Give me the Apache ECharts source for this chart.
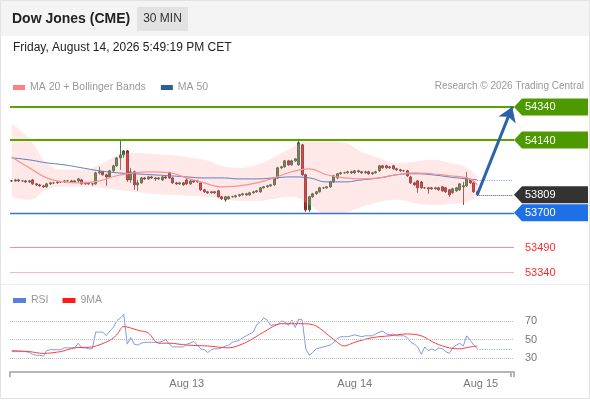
<!DOCTYPE html>
<html>
<head>
<meta charset="utf-8">
<script src="https://cdn.jsdelivr.net/npm/echarts@6/dist/echarts.min.js"></script>
<style>
  html, body { margin: 0; padding: 0; background: #fff; }
  #chart { width: 590px; height: 400px; }
</style>
</head>
<body>
<div id="chart"></div>
<script>
// 30 min candles, Dow Jones (CME)
const opens = [53893,53893,53899,53893,53893,53887,53899,53875,53869,53863,
  53857,53875,53881,53881,53887,53887,53893,53893,53887,53893,
  53899,53875,53881,53875,53875,53942,53948,53930,53917,53954,
  53984,54032,54050,54074,53899,53948,53869,53881,53911,53905,
  53917,53911,53905,53899,53917,53942,53911,53881,53875,53881,
  53899,53875,53893,53887,53881,53839,53827,53821,53827,53833,
  53797,53779,53785,53797,53797,53803,53809,53815,53809,53821,
  53827,53827,53851,53857,53863,53869,53911,53972,53978,54014,
  53990,54014,53990,54111,53930,53718,53797,53815,53827,53851,
  53851,53857,53887,53911,53936,53942,53942,53948,53942,53954,
  53948,53942,53948,53936,53942,53954,53984,53984,53972,53984,
  53966,53960,53954,53954,53917,53881,53893,53887,53851,53851,
  53851,53845,53851,53857,53851,53839,53821,53833,53839,53863,
  53863,53899,53881,53827]
const closes = [53893,53899,53893,53893,53887,53893,53875,53869,53863,53857,
  53875,53881,53881,53887,53887,53893,53893,53887,53893,53905,
  53875,53881,53875,53875,53942,53948,53930,53917,53954,53984,
  54032,54050,54074,53899,53948,53869,53881,53911,53905,53917,
  53911,53905,53911,53917,53911,53911,53881,53875,53881,53869,
  53875,53893,53887,53893,53839,53827,53821,53827,53821,53797,
  53785,53797,53797,53797,53803,53809,53815,53809,53821,53827,
  53833,53851,53857,53863,53869,53911,53972,53978,54014,53990,
  54014,54026,54123,53930,53718,53797,53815,53827,53851,53851,
  53857,53887,53924,53936,53942,53942,53948,53942,53954,53948,
  53942,53948,53936,53942,53948,53984,53972,53972,53978,53966,
  53960,53954,53954,53924,53881,53869,53851,53851,53851,53845,
  53845,53851,53839,53833,53827,53809,53845,53851,53875,53857,
  53911,53881,53827,53809]
const highs = [53899,53905,53905,53899,53899,53899,53905,53881,53875,53869,
  53881,53887,53887,53893,53893,53899,53899,53899,53899,53911,
  53905,53887,53887,53881,53948,53978,53954,53936,53960,53990,
  54038,54147,54080,54080,53972,53954,53899,53917,53917,53924,
  53924,53917,53917,53924,53924,53948,53917,53887,53887,53887,
  53911,53899,53899,53899,53887,53845,53833,53833,53833,53839,
  53803,53803,53803,53803,53809,53815,53821,53821,53827,53833,
  53839,53857,53863,53869,53875,53917,53978,53984,54020,54020,
  54020,54032,54147,54117,53936,53803,53821,53833,53857,53857,
  53863,53893,53930,53942,53948,53948,53954,53954,53960,53960,
  53954,53954,53954,53948,53954,53990,53990,53990,53984,53990,
  53972,53966,53960,53960,53924,53887,53899,53893,53857,53857,
  53857,53857,53857,53863,53857,53845,53851,53857,53881,53887,
  53948,53905,53887,53833]
const lows = [53887,53887,53887,53887,53881,53881,53869,53863,53857,53851,
  53851,53869,53875,53875,53881,53881,53887,53881,53881,53887,
  53869,53869,53869,53863,53869,53930,53924,53863,53911,53948,
  53978,53960,54032,53887,53881,53839,53833,53875,53899,53899,
  53905,53893,53899,53893,53905,53905,53875,53869,53869,53863,
  53869,53869,53881,53881,53833,53821,53815,53815,53815,53791,
  53779,53766,53779,53791,53791,53797,53803,53803,53803,53815,
  53821,53821,53845,53851,53857,53863,53905,53966,53972,53984,
  53984,54008,53984,53924,53706,53706,53791,53809,53821,53845,
  53845,53851,53881,53905,53930,53936,53936,53936,53936,53942,
  53936,53936,53930,53930,53936,53948,53966,53966,53966,53960,
  53954,53948,53948,53917,53875,53863,53821,53845,53845,53815,
  53839,53839,53833,53827,53821,53797,53815,53827,53833,53748,
  53857,53875,53821,53803]

// indicators read at every 5th candle
const bandIdx = [0,5,10,15,20,25,30,35,40,45,50,55,60,65,70,75,80,85,90,95,100,105,110,115,120,125,130,133]
const bbUpper = [54238,54147,54002,53960,53960,53990,54044,54062,54056,54050,54038,54020,53984,53972,53990,54038,54093,54135,54135,54123,54068,54032,54002,54008,54020,54002,53972,53917]
const bbLower = [53797,53779,53839,53857,53857,53851,53839,53827,53815,53809,53803,53797,53785,53772,53772,53785,53797,53748,53694,53700,53736,53766,53779,53760,53748,53754,53766,53797]
const ma20 = [54038,53972,53911,53887,53881,53893,53924,53942,53948,53942,53911,53881,53857,53863,53881,53911,53948,53966,53930,53911,53905,53911,53930,53942,53936,53924,53911,53869]
const ma50 = [54032,54020,54002,53990,53972,53954,53942,53936,53930,53924,53917,53911,53911,53905,53905,53911,53917,53911,53887,53887,53899,53911,53930,53936,53930,53917,53905,53899]

const rsi = [37,37,37,37,37,36,34,33,33,32,
  38,39,39,39,39,41,41,41,41,46,
  41,41,40,40,58,58,58,54,59,63,
  70,73,77,45,52,45,44,46,47,47,
  47,47,47,48,50,45,42,42,42,42,
  45,46,48,44,40,39,36,39,40,40,
  41,43,44,47,48,49,52,54,56,58,
  66,69,73,71,65,66,66,70,69,65,
  71,63,72,71,40,33,36,40,41,42,
  43,44,47,51,53,53,53,54,55,54,
  53,54,54,54,56,58,59,56,55,56,
  54,54,54,52,47,45,42,34,42,38,
  40,38,41,40,37,35,41,44,46,43,
  54,49,44,40]
const rsiMaIdx = [0,5,9,14,18,23,28,30,32,36,39,42,45,50,56,62,67,72,77,82,86,92,95,98,103,108,113,117,121,125,128,131,133]
const rsiMaVal = [38,37,35,37,41,42,49,55,64,60,57,46,46,44,43,41,47,58,67,67,66,50,43,47,52,54,56,54,46,41,40,42,43]

const levelValues = [54340, 54140, 53809, 53700, 53490, 53340]
const levelColors = ['#4c9a00', '#4c9a00', '#333333', '#1f6fe8', '#ff2b2b', '#ff2b2b']
const levelBoxed = [true, true, true, true, false, false]
const rsiTicks = [30, 50, 70]
const dayLabels = { '50': 'Aug 13', '98': 'Aug 14', '134': 'Aug 15' }

const slots = 144
const cats = []
for (let i = 0; i < slots; i++) cats.push(String(i))
const last = String(closes.length - 1)
const lastSlot = String(slots - 1)

const FONT = '"Liberation Sans", Arial, sans-serif'
const candles = opens.map((o, i) => [o, closes[i], lows[i], highs[i]])
const pairs = (idx, vals) => idx.map((x, k) => [x, vals[k]])

const chart = echarts.init(document.getElementById('chart'))
chart.setOption({
  animation: false,
  textStyle: { fontFamily: FONT },
  grid: [
    { left: 10, right: 76, top: 97, height: 182 },
    { left: 10, right: 76, top: 307, height: 65 }
  ],
  legend: [
    {
      data: ['MA 20 + Bollinger Bands', 'MA 50'],
      left: 8, top: 77, icon: 'rect', itemWidth: 12, itemHeight: 5, itemGap: 15,
      textStyle: { color: '#999', fontSize: 10.5 }, selectedMode: false
    },
    {
      data: ['RSI', '9MA'],
      left: 8, top: 290, icon: 'rect', itemWidth: 13, itemHeight: 5, itemGap: 14,
      textStyle: { color: '#999', fontSize: 10.5 }, selectedMode: false
    }
  ],
  xAxis: [
    { type: 'category', gridIndex: 0, data: cats, show: false },
    {
      type: 'category', gridIndex: 1, data: cats,
      axisLine: { lineStyle: { color: '#b5b5b5', width: 2 } },
      axisTick: { show: true, length: 5, interval: (i) => i === 0 || i === slots - 1, lineStyle: { color: '#b5b5b5', width: 2 } },
      axisLabel: { interval: 0, margin: 6, color: '#777', fontSize: 11, formatter: (v) => dayLabels[v] || '' }
    }
  ],
  yAxis: [
    { type: 'value', gridIndex: 0, min: 53300, max: 54400, show: false },
    {
      type: 'value', gridIndex: 1, min: 15, max: 85, position: 'right',
      axisLine: { show: false }, axisTick: { show: false }, splitLine: { show: false },
      axisLabel: { customValues: rsiTicks, color: '#777', fontSize: 11, margin: 11 }
    }
  ],
  graphic: [
    { type: 'rect', silent: true, shape: { x: 0, y: 0, width: 590, height: 36 }, style: { fill: '#f4f4f4' } },
    { type: 'rect', silent: true, shape: { x: 0.5, y: 0.5, width: 589, height: 398 }, style: { fill: 'none', stroke: '#e3e3e3' } },
    { type: 'text', silent: true, style: { text: 'Dow Jones (CME)', x: 12, y: 19, verticalAlign: 'middle', fill: '#222', font: 'bold 14px ' + FONT } },
    { type: 'rect', silent: true, shape: { x: 137, y: 7, width: 51, height: 24 }, style: { fill: '#e2e2e2' } },
    { type: 'text', silent: true, style: { text: '30 MIN', x: 162.5, y: 19, align: 'center', verticalAlign: 'middle', fill: '#333', font: '12px ' + FONT } },
    { type: 'text', silent: true, style: { text: 'Friday, August 14, 2026 5:49:19 PM CET', x: 13, y: 48, verticalAlign: 'middle', fill: '#222', font: '12px ' + FONT } },
    { type: 'text', silent: true, style: { text: 'Research \u00a9 2026 Trading Central', x: 584, y: 86, align: 'right', verticalAlign: 'middle', fill: '#999', font: '10px ' + FONT } },
    { type: 'line', silent: true, shape: { x1: 1, y1: 284.5, x2: 589, y2: 284.5 }, style: { stroke: '#ebebeb', lineWidth: 1 } }
  ],
  series: [
    {
      name: 'bbLower', type: 'line', xAxisIndex: 0, yAxisIndex: 0, stack: 'bb', silent: true,
      data: pairs(bandIdx, bbLower), smooth: true, showSymbol: false, lineStyle: { opacity: 0 }
    },
    {
      name: 'bbWidth', type: 'line', xAxisIndex: 0, yAxisIndex: 0, stack: 'bb', silent: true,
      data: bandIdx.map((x, k) => [x, bbUpper[k] - bbLower[k]]), smooth: true, showSymbol: false,
      lineStyle: { opacity: 0 }, areaStyle: { color: 'rgba(255,170,170,0.38)' }
    },
    {
      name: 'MA 50', type: 'line', xAxisIndex: 0, yAxisIndex: 0, color: '#2e5c9a',
      data: pairs(bandIdx, ma50), smooth: true, showSymbol: false,
      lineStyle: { color: '#5a7dbd', width: 1 },
      markLine: {
        silent: true, symbol: 'none', label: { show: false },
        lineStyle: { color: '#8ea8da', type: 'dotted', width: 1.2 },
        data: [[{ coord: [last, ma50[ma50.length - 1]] }, { coord: [lastSlot, ma50[ma50.length - 1]] }]]
      }
    },
    {
      name: 'MA 20 + Bollinger Bands', type: 'line', xAxisIndex: 0, yAxisIndex: 0, color: '#ff8080',
      data: pairs(bandIdx, ma20), smooth: true, showSymbol: false,
      lineStyle: { color: '#ff9090', width: 1.2 }
    },
    {
      name: 'levels', type: 'line', xAxisIndex: 0, yAxisIndex: 0, data: [],
      markLine: {
        silent: true, symbol: 'none', label: { show: false },
        data: [
          { yAxis: levelValues[0], lineStyle: { color: '#58a300', width: 2, type: 'solid' } },
          { yAxis: levelValues[1], lineStyle: { color: '#58a300', width: 2, type: 'solid' } },
          { yAxis: levelValues[3], lineStyle: { color: '#3a70d8', width: 1.3, type: 'solid' } },
          { yAxis: levelValues[4], lineStyle: { color: '#ff8c8c', width: 1, type: 'solid' } },
          { yAxis: levelValues[5], lineStyle: { color: '#ffb4b4', width: 1, type: 'solid' } },
          [
            { coord: [last, levelValues[2]], lineStyle: { color: '#555', width: 1, type: 'dotted' } },
            { coord: [lastSlot, levelValues[2]] }
          ]
        ]
      }
    },
    {
      name: 'price', type: 'candlestick', xAxisIndex: 0, yAxisIndex: 0,
      data: candles, barWidth: 2.8,
      itemStyle: { color: '#338533', color0: '#e41b23', borderColor: '#264226', borderColor0: '#581515', borderWidth: 0.8 }
    },
    {
      name: 'arrow', type: 'line', xAxisIndex: 0, yAxisIndex: 0, data: [], z: 5,
      markLine: {
        silent: true, symbol: ['none', 'arrow'], symbolSize: 14, label: { show: false },
        lineStyle: { color: '#2e62a8', width: 3, type: 'solid' },
        data: [[{ coord: [last, levelValues[2]] }, { coord: [lastSlot, levelValues[0]] }]]
      }
    },
    {
      name: 'tags', type: 'custom', xAxisIndex: 0, yAxisIndex: 0, silent: true, z: 10,
      data: levelValues.map((v) => [slots - 1, v]),
      renderItem: (params, api) => {
        const i = params.dataIndex
        const p = api.coord([api.value(0), api.value(1)])
        const x = p[0] + api.size([1, 0])[0] / 2
        const y = p[1]
        const kids = []
        if (levelBoxed[i]) {
          kids.push({
            type: 'polygon',
            shape: { points: [[x, y], [x + 8, y - 8.5], [x + 74, y - 8.5], [x + 74, y + 8.5], [x + 8, y + 8.5]] },
            style: { fill: levelColors[i] }
          })
        }
        kids.push({
          type: 'text',
          style: {
            text: String(levelValues[i]), x: x + 11, y: y + 0.5, verticalAlign: 'middle',
            fill: levelBoxed[i] ? '#fff' : levelColors[i], font: '11px ' + FONT
          }
        })
        return { type: 'group', children: kids }
      }
    },
    {
      name: 'RSI', type: 'line', xAxisIndex: 1, yAxisIndex: 1, color: '#5b7fe0',
      data: rsi, showSymbol: false, lineStyle: { color: '#7d9be8', width: 1 },
      markLine: {
        silent: true, symbol: 'none', label: { show: false },
        data: rsiTicks.map((v) => ({ yAxis: v, lineStyle: { color: '#bdbdbd', type: 'dotted', width: 1 } })).concat([
          [
            { coord: [last, rsi[rsi.length - 1]], lineStyle: { color: '#9db2ee', type: 'dotted', width: 1.2 } },
            { coord: [lastSlot, rsi[rsi.length - 1]] }
          ]
        ])
      }
    },
    {
      name: '9MA', type: 'line', xAxisIndex: 1, yAxisIndex: 1, color: '#ff1a1a',
      data: pairs(rsiMaIdx, rsiMaVal), smooth: 0.3, showSymbol: false,
      lineStyle: { color: '#ff3b3b', width: 1 }
    }
  ]
})
</script>
</body>
</html>
